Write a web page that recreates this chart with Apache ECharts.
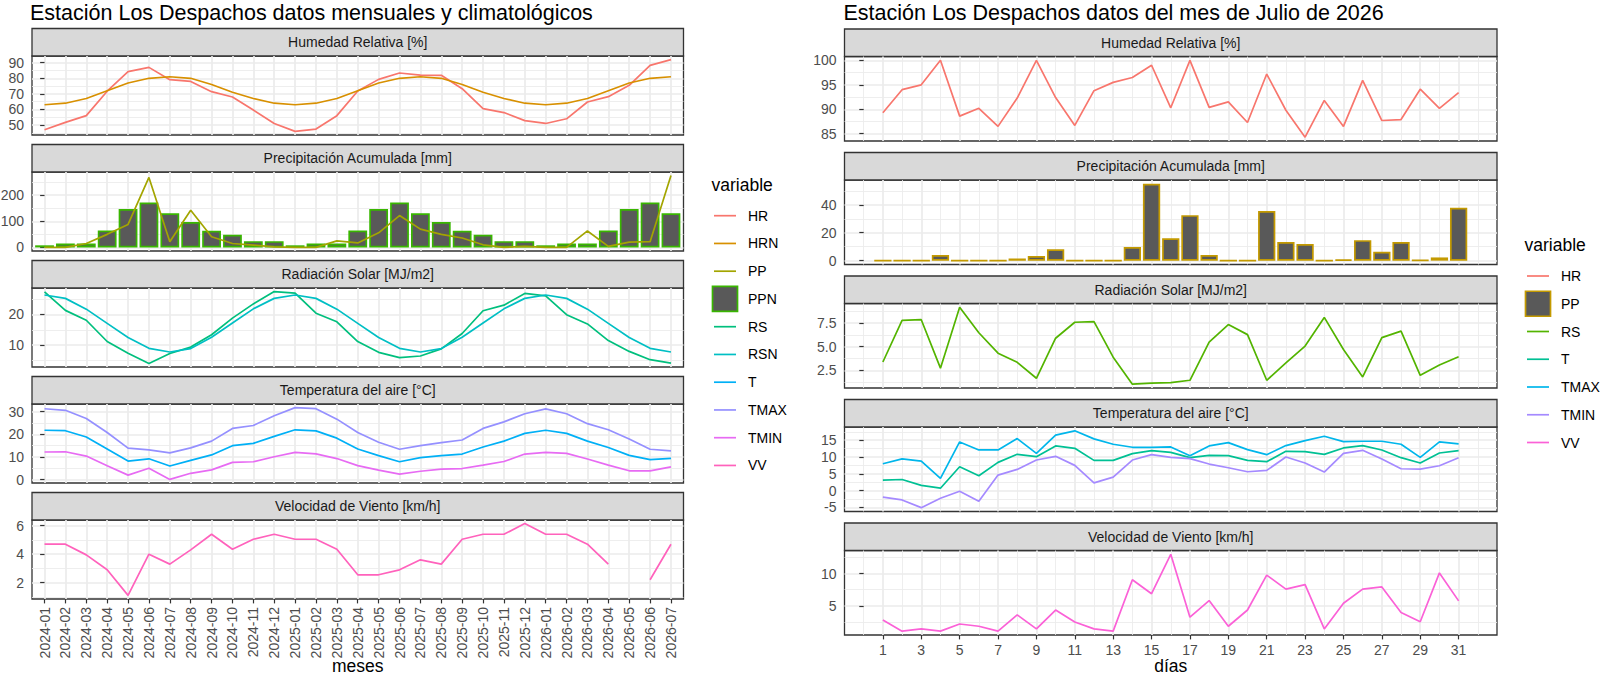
<!DOCTYPE html>
<html>
<head>
<meta charset="utf-8">
<script src="https://cdn.jsdelivr.net/npm/echarts@6/dist/echarts.min.js"></script>
<style>
html,body{margin:0;padding:0;background:#ffffff;}
#c{width:1600px;height:676px;}
</style>
</head>
<body>
<div id="c"></div>
<script>
// ---------- monthly / climatological data (left) ----------
const months = ['2024-01','2024-02','2024-03','2024-04','2024-05','2024-06','2024-07','2024-08','2024-09','2024-10','2024-11','2024-12',
                '2025-01','2025-02','2025-03','2025-04','2025-05','2025-06','2025-07','2025-08','2025-09','2025-10','2025-11','2025-12',
                '2026-01','2026-02','2026-03','2026-04','2026-05','2026-06','2026-07'];
const HR   = [47, 51.7, 56, 71.7, 84.3, 87, 79.1, 78, 71.4, 68, 59.6, 51, 45.9, 47.4, 56, 71.8, 79.3, 83.4, 82, 81.9, 73.3, 60.5, 58, 52.8, 51, 54, 64.8, 68.2, 75.5, 88.3, 92];
const HRN  = [63, 64, 67, 72, 77, 80, 81, 80, 76, 71, 67, 64, 63, 64, 67, 72, 77, 80, 81, 80, 76, 71, 67, 64, 63, 64, 67, 72, 77, 80, 81];
const PP   = [0, 0, 15, 50, 88, 268, 22, 142, 41, 15, 9, 2, 0, 0, 25, 17, 56, 122, 70, 50, 36, 10, 0, 4, 0, 0, 63, 4, 20, 22, 275];
const PPN  = [8, 15, 15, 65, 147, 172, 131, 97, 64, 48, 24, 24, 8, 15, 15, 65, 147, 172, 131, 97, 64, 48, 24, 24, 8, 15, 15, 65, 147, 172, 131];
const RS   = [27.3, 21.3, 18.1, 11.2, 7.4, 4.1, 7.3, 9.4, 13.4, 18.8, 23.4, 27.4, 26.9, 20.4, 17.6, 11.2, 7.7, 6.0, 6.5, 8.8, 13.8, 21.2, 23.0, 26.8, 26.0, 19.9, 16.9, 11.5, 8.0, 5.3, 4.2];
const RSN  = [26.3, 25.2, 21.7, 17.1, 12.5, 9.0, 7.8, 8.9, 12.6, 17.2, 21.8, 25.2, 26.3, 25.2, 21.7, 17.1, 12.5, 9.0, 7.8, 8.9, 12.6, 17.2, 21.8, 25.2, 26.3, 25.2, 21.7, 17.1, 12.5, 9.0, 7.8];
const T    = [21.8, 21.6, 18.8, 13.5, 8.2, 9.2, 6.0, 8.5, 10.9, 15.0, 16.0, 19.1, 22.0, 21.5, 18.3, 13.5, 10.6, 7.9, 9.7, 10.6, 11.3, 14.4, 17.0, 20.4, 21.8, 20.4, 17.0, 14.2, 10.7, 8.8, 9.4];
const TMAX = [31.3, 30.6, 27.0, 20.8, 13.9, 13.1, 11.8, 14.0, 17.0, 22.6, 23.9, 28.2, 31.8, 31.3, 26.7, 20.8, 16.5, 13.4, 15.0, 16.3, 17.5, 22.6, 25.5, 29.1, 31.2, 29.1, 24.7, 22.0, 17.9, 13.4, 12.7];
const TMIN = [12.2, 12.3, 10.4, 6.1, 2.0, 5.0, 0.1, 2.8, 4.3, 7.6, 7.9, 10.1, 12.0, 11.4, 9.3, 6.2, 4.2, 2.4, 3.7, 4.6, 4.9, 6.4, 8.0, 11.3, 12.0, 11.6, 9.1, 6.4, 3.9, 3.9, 5.6];
const VV   = [4.7, 4.7, 3.95, 2.9, 1.1, 4.0, 3.3, 4.3, 5.4, 4.35, 5.05, 5.4, 5.05, 5.05, 4.35, 2.55, 2.55, 2.9, 3.6, 3.3, 5.05, 5.4, 5.4, 6.15, 5.4, 5.4, 4.7, 3.3, null, 2.2, 4.7];

// ---------- daily data, July 2026 (right) ----------
const days  = [1,2,3,4,5,6,7,8,9,10,11,12,13,14,15,16,17,18,19,20,21,22,23,24,25,26,27,28,29,30,31];
const dHR   = [89.3, 94, 95, 100, 88.6, 90.2, 86.5, 92.3, 100, 92.4, 86.7, 93.8, 95.5, 96.5, 99, 90.3, 100, 90.4, 91.5, 87.3, 97.2, 89.8, 84.3, 91.8, 86.5, 95.9, 87.7, 87.9, 94.1, 90.2, 93.4];
const dPP   = [0, 0, 0, 4, 0, 0, 0, 1.6, 3.3, 8.1, 0, 0, 0, 9.8, 55, 16, 32.6, 4, 0, 0, 35.6, 13.3, 11.9, 0, 0.7, 14.7, 6.3, 13.3, 0.3, 2.3, 37.9];
const dRS   = [3.39, 7.77, 7.84, 2.74, 9.14, 6.47, 4.32, 3.36, 1.68, 5.89, 7.57, 7.64, 3.9, 1.06, 1.16, 1.23, 1.47, 5.48, 7.33, 6.27, 1.47, 3.29, 5.07, 8.08, 4.7, 1.82, 5.96, 6.64, 1.99, 3.08, 3.94];
const dT    = [3.1, 3.3, 1.56, 0.7, 7.1, 4.4, 8.4, 10.8, 10.1, 13.3, 12.6, 9.0, 9.0, 11.0, 11.9, 11.4, 9.8, 10.5, 10.4, 9.0, 8.6, 11.7, 11.6, 10.8, 12.7, 13.4, 12.1, 9.8, 8.2, 11.2, 11.9];
const dTMAX = [8.0, 9.45, 8.77, 3.6, 14.5, 12.1, 12.1, 15.5, 11.1, 16.5, 17.8, 15.4, 13.8, 12.9, 12.9, 13.0, 10.4, 13.3, 14.3, 12.2, 10.7, 13.4, 14.9, 16.2, 14.6, 14.7, 14.7, 13.8, 9.9, 14.5, 13.9];
const dTMIN = [-1.95, -2.8, -5.1, -2.3, -0.2, -3.2, 4.6, 6.3, 9.1, 10.2, 7.5, 2.3, 4.0, 9.1, 10.7, 9.9, 9.5, 7.9, 6.8, 5.6, 6.0, 10.0, 8.2, 5.5, 11.1, 12.0, 9.4, 6.5, 6.4, 7.4, 9.8];
const dVV   = [2.78, 1.06, 1.41, 1.06, 2.17, 1.82, 1.06, 3.59, 1.41, 4.34, 2.47, 1.41, 1.06, 9.04, 6.87, 12.98, 3.23, 5.81, 1.82, 4.34, 9.75, 7.58, 8.28, 1.41, 5.4, 7.58, 7.93, 3.94, 2.52, 10.1, 5.76];

// ---------- texts ----------
const titleLeft  = 'Estación Los Despachos datos mensuales y climatológicos';
const titleRight = 'Estación Los Despachos datos del mes de Julio de 2026';
const strips = ['Humedad Relativa [%]', 'Precipitación Acumulada [mm]', 'Radiación Solar [MJ/m2]', 'Temperatura del aire [°C]', 'Velocidad de Viento [km/h]'];
const leftVars  = ['HR','HRN','PP','PPN','RS','RSN','T','TMAX','TMIN','VV'];
const rightVars = ['HR','PP','RS','T','TMAX','TMIN','VV'];
const leftColors  = ['#F8766D','#D89000','#A3A500','#39B600','#00BF7D','#00BFC4','#00B0F6','#9590FF','#E76BF3','#FF62BC'];
const rightColors = ['#F8766D','#C49A00','#53B400','#00C094','#00B6EB','#A58AFF','#FB61D7'];
const legendTitle = 'variable';
const xNameLeft = 'meses', xNameRight = 'días';

// ---------- layout ----------
const FONT = '"Liberation Sans", Arial, Helvetica, sans-serif';
const STRIP_H = 27.5;
const LAY_L = {x: 32, w: 651.5, top0: 56, step: 116, h: 79};
const LAY_R = {x: 844.5, w: 652.5, top0: 56.5, step: 123.5, h: 84.5};
const GRID_MAJOR = {color: '#EBEBEB', width: 1.7};
const GRID_MINOR = {color: '#EBEBEB', width: 0.85};

const leftData  = {HR, HRN, PP, PPN, RS, RSN, T, TMAX, TMIN, VV};
const rightData = {HR: dHR, PP: dPP, RS: dRS, T: dT, TMAX: dTMAX, TMIN: dTMIN, VV: dVV};

const leftPanels = [
  {lines: ['HR','HRN'], step: 10, dec: 0},
  {bar: 'PPN', lines: ['PP'], step: 100, dec: 0},
  {lines: ['RS','RSN'], step: 10, dec: 0},
  {lines: ['T','TMAX','TMIN'], step: 10, dec: 0},
  {lines: ['VV'], step: 2, dec: 0}
];
const rightPanels = [
  {lines: ['HR'], step: 5, dec: 0},
  {bar: 'PP', lines: [], step: 20, dec: 0},
  {lines: ['RS'], step: 2.5, dec: 1},
  {lines: ['T','TMAX','TMIN'], step: 5, dec: 0},
  {lines: ['VV'], step: 5, dec: 0}
];

function isMult(v, step) { const r = v / step; return Math.abs(r - Math.round(r)) < 1e-6; }

function yAxisFor(gi, vals, step, dec, zero) {
  const v = vals.filter(x => x != null);
  if (zero) v.push(0);
  const lo = Math.min(...v), hi = Math.max(...v), pad = (hi - lo) * 0.05;
  const min = lo - pad, max = hi + pad;
  const ticks = [];
  for (let k = Math.ceil(min / step - 1e-9); k * step <= max + 1e-9; k++) ticks.push(+(k * step).toFixed(6));
  return {
    type: 'value', gridIndex: gi, min: min, max: max, minInterval: step, maxInterval: step, splitNumber: 4,
    axisLine: {show: false},
    axisTick: {show: true, length: 4.4, customValues: ticks, lineStyle: {color: '#333333', width: 1.2}},
    axisLabel: {show: true, customValues: ticks, margin: 8, color: '#4D4D4D', fontSize: 14, fontFamily: FONT,
      formatter: x => isMult(x, step) ? (dec ? Number(x).toFixed(dec) : String(Math.round(x))) : ''},
    splitLine: {show: true, lineStyle: GRID_MAJOR},
    minorTick: {show: false, splitNumber: 2},
    minorSplitLine: {show: true, lineStyle: GRID_MINOR}
  };
}

const grids = [], xAxes = [], yAxes = [], series = [], graphics = [];

function addSide(lay, panels, data, names, colors, xs, isLeft) {
  const vcolor = {};
  names.forEach((n, i) => vcolor[n] = colors[i]);
  const unitPx = isLeft ? lay.w / 31.2 : lay.w / 34;
  panels.forEach((p, k) => {
    const gi = grids.length;
    const top = lay.top0 + lay.step * k;
    grids.push({left: lay.x, top: top, width: lay.w, height: lay.h, show: true, backgroundColor: '#ffffff',
      borderColor: '#333333', borderWidth: 1.3, containLabel: false, outerBoundsMode: 'none'});
    const bottom = k === panels.length - 1;
    if (isLeft) {
      const idx = xs.slice();
      xAxes.push({type: 'value', gridIndex: gi, min: -0.6, max: 30.6, minInterval: 1, maxInterval: 1,
        axisLine: {show: false},
        axisTick: {show: bottom, length: 4.4, customValues: idx, lineStyle: {color: '#333333', width: 1.2}},
        axisLabel: {show: bottom, customValues: idx, rotate: 90, margin: 8, color: '#4D4D4D', fontSize: 14, fontFamily: FONT,
          formatter: v => (isMult(v, 1) && months[Math.round(v)]) ? months[Math.round(v)] : ''},
        splitLine: {show: true, lineStyle: GRID_MAJOR},
        minorSplitLine: {show: false},
        name: bottom ? xNameLeft : '', nameLocation: 'middle', nameGap: 59, nameMoveOverlap: false,
        nameTextStyle: {fontSize: 17.5, lineHeight: 16, color: '#000000', fontFamily: FONT}
      });
    } else {
      const odd = xs.filter(d => d % 2 === 1);
      xAxes.push({type: 'value', gridIndex: gi, min: -1, max: 33, interval: 2,
        axisLine: {show: false},
        axisTick: {show: bottom, length: 4.4, customValues: odd, lineStyle: {color: '#333333', width: 1.2}},
        axisLabel: {show: bottom, customValues: odd, margin: 8, color: '#4D4D4D', fontSize: 14, fontFamily: FONT,
          formatter: v => (v >= 1 && v <= 31) ? String(v) : ''},
        splitLine: {show: true, lineStyle: GRID_MAJOR},
        minorTick: {show: false, splitNumber: 2},
        minorSplitLine: {show: true, lineStyle: GRID_MINOR},
        name: bottom ? xNameRight : '', nameLocation: 'middle', nameGap: 22.5, nameMoveOverlap: false,
        nameTextStyle: {fontSize: 17.5, lineHeight: 16, color: '#000000', fontFamily: FONT}
      });
    }
    const allVals = [];
    if (p.bar) allVals.push(...data[p.bar]);
    p.lines.forEach(n => allVals.push(...data[n]));
    yAxes.push(yAxisFor(gi, allVals, p.step, p.dec, !!p.bar));
    if (p.bar) {
      series.push({type: 'bar', name: p.bar, xAxisIndex: gi, yAxisIndex: gi, barWidth: 0.9 * unitPx,
        data: data[p.bar].map((v, i) => [xs[i], v]),
        itemStyle: {color: '#595959', borderColor: vcolor[p.bar], borderWidth: 1.7},
        z: 2, silent: true});
    }
    p.lines.forEach(n => {
      series.push({type: 'line', name: n, xAxisIndex: gi, yAxisIndex: gi, symbol: 'none', showSymbol: false,
        connectNulls: false,
        data: data[n].map((v, i) => [xs[i], v == null ? '-' : v]),
        lineStyle: {color: vcolor[n], width: 1.7}, itemStyle: {color: vcolor[n]}, z: 3, silent: true});
    });
    // facet strip
    graphics.push({type: 'rect', shape: {x: lay.x, y: top - STRIP_H, width: lay.w, height: STRIP_H},
      style: {fill: '#D9D9D9', stroke: '#333333', lineWidth: 1.3}, silent: true});
    graphics.push({type: 'text', x: lay.x + lay.w / 2, y: top - STRIP_H / 2,
      style: {text: strips[k], fill: '#1A1A1A', font: '14px ' + FONT, align: 'center', verticalAlign: 'middle'}, silent: true});
  });
}

addSide(LAY_L, leftPanels, leftData, leftVars, leftColors, months.map((_, i) => i), true);
addSide(LAY_R, rightPanels, rightData, rightVars, rightColors, days, false);

// legends (ggplot-style keys)
function addLegend(x0, yTitle, yFirst, names, colors, barName) {
  graphics.push({type: 'text', x: x0, y: yTitle,
    style: {text: legendTitle, fill: '#000000', font: '17.5px ' + FONT, align: 'left', verticalAlign: 'middle'}, silent: true});
  names.forEach((n, i) => {
    const cy = yFirst + 27.75 * i;
    if (n === barName) {
      graphics.push({type: 'rect', shape: {x: x0 + 1, y: cy - 12.5, width: 25, height: 25},
        style: {fill: '#595959', stroke: colors[i], lineWidth: 1.7}, silent: true});
    } else {
      graphics.push({type: 'line', shape: {x1: x0 + 2.5, y1: cy, x2: x0 + 24.5, y2: cy},
        style: {stroke: colors[i], lineWidth: 1.7}, silent: true});
    }
    graphics.push({type: 'text', x: x0 + 36.5, y: cy,
      style: {text: n, fill: '#000000', font: '14px ' + FONT, align: 'left', verticalAlign: 'middle'}, silent: true});
  });
}
addLegend(711.5, 185, 215.7, leftVars, leftColors, 'PPN');
addLegend(1524.5, 245, 276, rightVars, rightColors, 'PP');

const chart = echarts.init(document.getElementById('c'), null, {renderer: 'svg', width: 1600, height: 676});
chart.setOption({
  animation: false,
  backgroundColor: '#ffffff',
  textStyle: {fontFamily: FONT},
  title: [
    {text: titleLeft, left: 30, top: 1, padding: 0, textStyle: {fontSize: 21.5, lineHeight: 23, fontWeight: 'normal', color: '#000000', fontFamily: FONT}},
    {text: titleRight, left: 843.5, top: 1, padding: 0, textStyle: {fontSize: 21.5, lineHeight: 23, fontWeight: 'normal', color: '#000000', fontFamily: FONT}}
  ],
  grid: grids,
  xAxis: xAxes,
  yAxis: yAxes,
  series: series,
  graphic: graphics,
  tooltip: {show: false}
});
</script>
</body>
</html>
